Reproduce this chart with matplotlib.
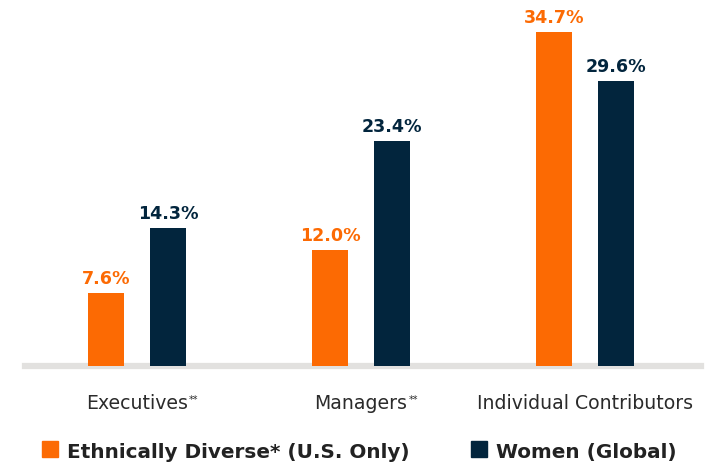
import matplotlib
matplotlib.use("Agg")
import matplotlib.pyplot as plt
from matplotlib.patches import Rectangle

categories = ["Executives", "Managers", "Individual Contributors"]
superscripts = ["**", "**", ""]
ethnic = [7.6, 12.0, 34.7]
women = [14.3, 23.4, 29.6]
series_names = ["Ethnically Diverse* (U.S. Only)", "Women (Global)"]

ORANGE = "#FC6A03"
NAVY = "#02253D"
GRAY = "#E2E1DF"
TEXT = "#2B2B2B"
FONT = "DejaVu Sans"

W, H = 719, 464
fig = plt.figure(figsize=(W / 100, H / 100), dpi=100)
ax = fig.add_axes([25 / W, (H - 367) / H, (701 - 25) / W, 367 / H])

x = list(range(len(categories)))
bw = 0.16
off = 0.138
ax.bar([i - off for i in x], ethnic, width=bw, color=ORANGE, zorder=2)
ax.bar([i + off for i in x], women, width=bw, color=NAVY, zorder=2)

for i in x:
    ax.annotate(f"{ethnic[i]:.1f}%", (i - off, ethnic[i]), xytext=(0, 10),
                textcoords="offset pixels", ha="center", va="baseline",
                color=ORANGE, fontsize=12.6, fontweight="bold", family=FONT)
    ax.annotate(f"{women[i]:.1f}%", (i + off, women[i]), xytext=(0, 10),
                textcoords="offset pixels", ha="center", va="baseline",
                color=NAVY, fontsize=12.6, fontweight="bold", family=FONT)

ax.set_xlim(-0.5, 2.518)
ax.set_ylim(0, 38.1)
ax.axis("off")
ax.axhline(0, color=GRAY, lw=4.5, zorder=1, clip_on=False)

fig.canvas.draw()
for i, (c, s) in enumerate(zip(categories, superscripts)):
    t = ax.annotate(c, (i, 0), xytext=(0, -42), textcoords="offset pixels",
                    ha="center", va="baseline", fontsize=13.6, color=TEXT, family=FONT,
                    annotation_clip=False)
    if s:
        fig.canvas.draw()
        bb = t.get_window_extent()
        fig.text((bb.x1 + 1) / W, (bb.y1 - 1) / H, s, fontsize=7, color=TEXT,
                 family=FONT, ha="left", va="top")

# legend
fig.patches.append(Rectangle((42 / W, (H - 458) / H), 16 / W, 16 / H,
                             transform=fig.transFigure, color=ORANGE, figure=fig))
fig.text(67 / W, (H - 458) / H, series_names[0], fontsize=14.4, fontweight="bold",
         color="#222222", family=FONT, va="baseline", ha="left")
fig.patches.append(Rectangle((471 / W, (H - 458) / H), 16 / W, 16 / H,
                             transform=fig.transFigure, color=NAVY, figure=fig))
fig.text(496 / W, (H - 458) / H, series_names[1], fontsize=14.4, fontweight="bold",
         color="#222222", family=FONT, va="baseline", ha="left")

fig.savefig("out.png", dpi=100)
